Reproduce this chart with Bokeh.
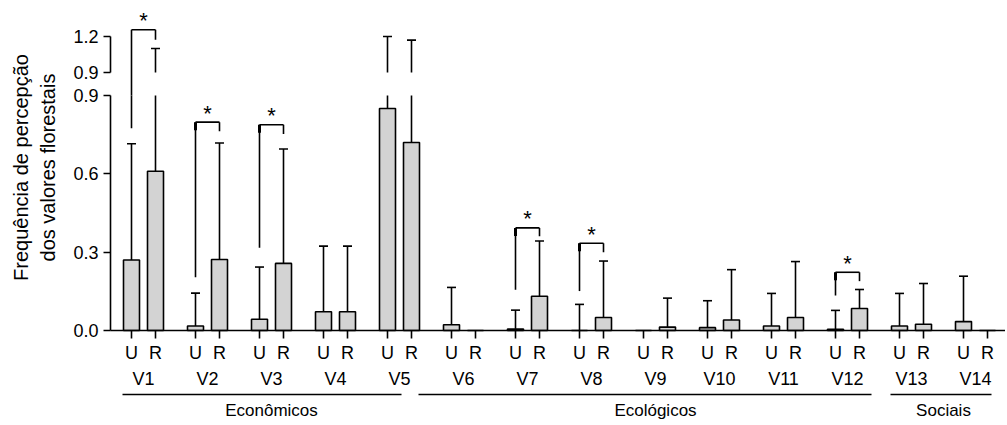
import numpy as np
from bokeh.plotting import figure
from bokeh.models import Range1d, LinearAxis, FixedTicker, NumeralTickFormatter, Label
from bokeh.core.properties import value
from bokeh.embed import file_html
from bokeh.resources import INLINE

# ---------------- data ----------------
variables = ["V1", "V2", "V3", "V4", "V5", "V6", "V7", "V8", "V9", "V10", "V11", "V12", "V13", "V14"]
groups = ["Econômicos", "Ecológicos", "Sociais"]
group_sizes = [5, 7, 2]
side_labels = ["U", "R"]

u_mean = [0.270, 0.017, 0.043, 0.072, 0.850, 0.022, 0.006, 0.000, 0.000, 0.011, 0.017, 0.005, 0.017, 0.034]
u_upper = [0.715, 0.143, 0.243, 0.323, 1.200, 0.165, 0.078, 0.100, 0.000, 0.114, 0.142, 0.077, 0.142, 0.208]
r_mean = [0.610, 0.272, 0.257, 0.072, 0.720, 0.000, 0.131, 0.050, 0.013, 0.040, 0.050, 0.084, 0.024, 0.000]
r_upper = [1.100, 0.718, 0.695, 0.323, 1.170, 0.000, 0.343, 0.266, 0.124, 0.233, 0.264, 0.157, 0.180, 0.000]

sig_vars = ["V1", "V2", "V3", "V7", "V8", "V12"]
bracket_top = [1.256, 0.798, 0.788, 0.393, 0.334, 0.223]
bracket_left_bottom = [0.775, 0.204, 0.317, 0.156, 0.151, 0.134]
bracket_right_bottom = [1.172, 0.763, 0.753, 0.361, 0.300, 0.189]

lower_ticks = [0.0, 0.3, 0.6, 0.9]
upper_ticks = [0.9, 1.2]
y_title_lines = ["Frequência de percepção", "dos valores florestais"]

# ---------------- layout constants (page pixels) ----------------
W, H = 1005, 423
AXIS_X_PX = 110.0        # where the y axis sits
FIRST_BAR_PX = 131.0     # centre of the first "U" bar
ZERO_PX = 330.0          # y pixel of 0.0
LOW_TOP_PX = 95.0        # y pixel of lower 0.9
UP_BREAK_PX = 72.0       # y pixel of upper 0.9
PX_X = 8.0               # px per x unit
STEP, DODGE = 8.0, 3.0
BAR_W = 2.0
CAP = 0.5625
BREAK = 0.9
PX_LOW = (ZERO_PX - LOW_TOP_PX) / BREAK
PX_UP = 120.0

x_start = -FIRST_BAR_PX / PX_X
x_end = x_start + W / PX_X
x_axis_loc = (AXIS_X_PX - FIRST_BAR_PX) / PX_X
lo_start = -(H - ZERO_PX) / PX_LOW
lo_end = lo_start + H / PX_LOW
up_start = BREAK - (H - UP_BREAK_PX) / PX_UP
up_end = up_start + H / PX_UP
GAP_U = BREAK - (LOW_TOP_PX - UP_BREAK_PX) / PX_UP   # upper-range value at lower 0.9

FONT = "Liberation Sans"
FS_TICK = "18px"
FS_GROUP = "17px"
FS_TITLE = "20px"
LW = 1.6
INK = "black"
BAR_FILL = "#d3d3d3"

n = len(variables)
idx = np.arange(n)
xu = idx * STEP
xr = idx * STEP + DODGE

p = figure(width=W, height=H, output_backend="svg", toolbar_location=None,
           x_range=Range1d(x_start, x_end), y_range=Range1d(lo_start, lo_end),
           x_axis_location=None, y_axis_location=None,
           min_border_left=0, min_border_right=0,
           min_border_top=0, min_border_bottom=0)
p.title.visible = False
p.outline_line_color = None
p.xgrid.visible = False
p.ygrid.visible = False
p.background_fill_color = "white"
p.border_fill_color = "white"
p.extra_y_ranges = {"upper": Range1d(up_start, up_end)}

line_kw = dict(line_color=INK, line_width=LW)

# ---------------- error bars ----------------
def errbars(xs, m, up):
    xs = np.asarray(xs, float); m = np.asarray(m, float); up = np.asarray(up, float)
    has = up > m
    lo_top = np.minimum(up, BREAK)
    p.segment(x0=xs[has], y0=m[has], x1=xs[has], y1=lo_top[has], **line_kw)
    cl = has & (up <= BREAK)
    p.segment(x0=xs[cl] - CAP, y0=up[cl], x1=xs[cl] + CAP, y1=up[cl], **line_kw)
    hi = has & (up > BREAK)
    if hi.any():
        p.segment(x0=xs[hi], y0=np.full(hi.sum(), BREAK), x1=xs[hi], y1=up[hi],
                  y_range_name="upper", **line_kw)
        p.segment(x0=xs[hi] - CAP, y0=up[hi], x1=xs[hi] + CAP, y1=up[hi],
                  y_range_name="upper", **line_kw)

errbars(xu, u_mean, u_upper)
errbars(xr, r_mean, r_upper)

# ---------------- bars ----------------
p.vbar(x=xu, width=BAR_W, top=u_mean, bottom=0, fill_color=BAR_FILL, line_color=INK, line_width=LW)
p.vbar(x=xr, width=BAR_W, top=r_mean, bottom=0, fill_color=BAR_FILL, line_color=INK, line_width=LW)

# ---------------- significance brackets ----------------
NOTCH_PX = 8.0
for v, top, lb, rb in zip(sig_vars, bracket_top, bracket_left_bottom, bracket_right_bottom):
    i = variables.index(v)
    x0, x1 = xu[i], xr[i]
    upper = top > BREAK
    rng = "upper" if upper else "default"
    scale = PX_UP if upper else PX_LOW
    p.segment(x0=[x0], y0=[top], x1=[x1], y1=[top], y_range_name=rng, **line_kw)
    p.segment(x0=[x1], y0=[top], x1=[x1], y1=[rb], y_range_name=rng, **line_kw)
    if upper and lb <= BREAK:
        p.segment(x0=[x0], y0=[top], x1=[x0], y1=[GAP_U], y_range_name="upper", **line_kw)
        p.segment(x0=[x0], y0=[BREAK], x1=[x0], y1=[lb], **line_kw)
    else:
        p.segment(x0=[x0], y0=[top], x1=[x0], y1=[lb], y_range_name=rng, **line_kw)
        p.segment(x0=[x0], y0=[top], x1=[x0], y1=[top - NOTCH_PX / scale], y_range_name=rng,
                  line_color=INK, line_width=3)
    p.text(x=[(x0 + x1) / 2], y=[top], text=["*"], y_range_name=rng,
           text_align="center", text_baseline="alphabetic", y_offset=-9,
           text_font=value(FONT), text_font_size="22px", text_color=INK)

# ---------------- group separator lines ----------------
group_pad_left = [1.125, 4.125, 1.125]
group_pad_right = [-1.25, 1.5, 0.5]
GROUP_LINE_Y = -(394 - ZERO_PX) / PX_LOW
starts = np.cumsum([0] + group_sizes[:-1])
ends = starts + np.array(group_sizes) - 1
p.segment(x0=xu[starts] - np.array(group_pad_left), y0=[GROUP_LINE_Y] * len(groups),
          x1=xr[ends] + np.array(group_pad_right), y1=[GROUP_LINE_Y] * len(groups), **line_kw)
group_centers = [float((xu[s] + xr[e]) / 2) for s, e in zip(starts, ends)]

# ---------------- axes ----------------
def style_axis(ax, fs=FS_TICK):
    ax.axis_line_color = INK
    ax.axis_line_width = LW
    ax.major_tick_line_color = INK
    ax.major_tick_line_width = LW
    ax.minor_tick_line_color = None
    ax.major_tick_in = 0
    ax.minor_tick_in = 0
    ax.minor_tick_out = 0
    ax.major_label_text_font = FONT
    ax.major_label_text_font_size = fs
    ax.major_label_text_color = INK

yl = LinearAxis(bounds=(0.0, BREAK), ticker=FixedTicker(ticks=lower_ticks),
                formatter=NumeralTickFormatter(format="0.0"), fixed_location=x_axis_loc)
yu = LinearAxis(y_range_name="upper", bounds=(BREAK, upper_ticks[-1]),
                ticker=FixedTicker(ticks=upper_ticks),
                formatter=NumeralTickFormatter(format="0.0"), fixed_location=x_axis_loc)
for ax in (yl, yu):
    style_axis(ax)
    ax.major_tick_out = 7
    ax.major_label_standoff = 5
    p.add_layout(ax, "left")

tick_pos = [float(t) for pair in zip(xu, xr) for t in pair]
tick_lab = [s for _ in variables for s in side_labels]
xa = LinearAxis(ticker=FixedTicker(ticks=tick_pos), bounds=(x_axis_loc, x_end),
                major_label_overrides=dict(zip(tick_pos, tick_lab)), fixed_location=0)
style_axis(xa)
xa.major_tick_out = 8
xa.major_label_standoff = 4
p.add_layout(xa, "below")

v_centers = [float(c) for c in (xu + xr) / 2]
xv = LinearAxis(ticker=FixedTicker(ticks=v_centers),
                major_label_overrides=dict(zip(v_centers, variables)), fixed_location=0)
style_axis(xv)
xv.axis_line_color = None
xv.major_tick_line_color = None
xv.major_tick_out = 0
xv.major_label_standoff = 38
p.add_layout(xv, "below")

xg = LinearAxis(ticker=FixedTicker(ticks=group_centers),
                major_label_overrides=dict(zip(group_centers, groups)), fixed_location=0)
style_axis(xg, FS_GROUP)
xg.axis_line_color = None
xg.major_tick_line_color = None
xg.major_tick_out = 0
xg.major_label_standoff = 70
p.add_layout(xg, "below")

# ---------------- y title ----------------
TITLE_CENTER_PX = 167.0
for txt, xpx in zip(y_title_lines, [20, 47]):
    p.add_layout(Label(x=xpx, y=H - TITLE_CENTER_PX, x_units="screen", y_units="screen", text=txt,
                       angle=np.pi / 2, text_align="center", text_baseline="middle",
                       text_font=FONT, text_font_size=FS_TITLE, text_color=INK))

open("out.html", "w").write(file_html(p, INLINE))
